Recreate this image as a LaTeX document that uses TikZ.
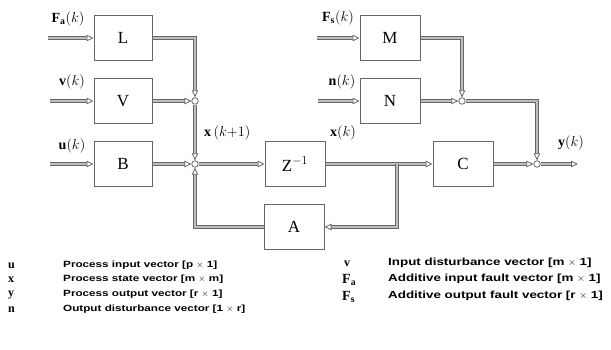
\documentclass[tikz,border=0pt]{standalone}
\usepackage{fontspec}
\setmainfont{Liberation Serif}
\setsansfont{Liberation Sans}
\newfontfamily\legfont[FakeStretch=1.3]{Liberation Sans Bold}
\definecolor{wire}{HTML}{666666}
\definecolor{wirecore}{HTML}{BEBEBE}
\usetikzlibrary{calc, positioning, arrows.meta}

\begin{document}
\begin{tikzpicture}[x=1pt, y=-1pt,
  blk/.style={draw=wire, line width=1pt, fill=white, minimum width=58pt,
              minimum height=45pt, font=\fontsize{17}{20}\selectfont},
  sumpt/.style={circle, draw=wire, line width=0.8pt, fill=white,
                minimum size=6.5pt, inner sep=0pt},
  sig/.style={draw=wire, line width=1pt, double=wirecore, double distance=1.5pt,
              -{Triangle[fill=white, length=7pt, width=6.5pt, line width=0.8pt]}},
  wireln/.style={draw=wire, line width=1pt, double=wirecore, double distance=1.5pt},
  lbl/.style={inner sep=0pt, font=\fontsize{14}{16}\selectfont},
  sym/.style={inner sep=0pt, anchor=west, font=\fontsize{12}{14}\selectfont\bfseries},
  symbig/.style={inner sep=0pt, anchor=west, font=\fontsize{14}{16}\selectfont},
  legtxt/.style={inner sep=0pt, anchor=west, font=\legfont\fontsize{9}{11}\selectfont},
  legtxtr/.style={legtxt, font=\legfont\fontsize{10.3}{12}\selectfont},
]
\useasboundingbox (0,0) rectangle (611,350);

% blocks
\node[blk] (L) at (123,38) {L};
\node[blk] (V) at (123,101) {V};
\node[blk] (B) at (123,164) {B};
\node[blk, minimum width=60pt] (Z) at (295,164) {Z$^{-1}$};
\node[blk, minimum width=60pt] (A) at (294,227) {A};
\node[blk, minimum width=60pt] (C) at (463,164) {C};
\node[blk, minimum width=60pt] (M) at (390,38) {M};
\node[blk, minimum width=60pt] (N) at (390,101) {N};

% junctions
\node[sumpt] (sj1) at (195,101) {};
\node[sumpt] (s1) at (195,164) {};
\node[sumpt] (sj3) at (462,101) {};
\node[sumpt] (s2) at (537,164) {};

% free ends
\coordinate (fain) at (48,38);
\coordinate (vin) at (50,101);
\coordinate (uin) at (50,164);
\coordinate (fsin) at (317,38);
\coordinate (nin) at (318,101);
\coordinate (br) at (397,164);
\coordinate (yout) at (578,164);

% signals
\draw[sig] (fain) -- (L);
\draw[sig] (vin) -- (V);
\draw[sig] (uin) -- (B);
\draw[sig] (fsin) -- (M);
\draw[sig] (nin) -- (N);
\draw[sig] (L.east) -| (sj1);
\draw[sig] (V) -- (sj1);
\draw[sig] (sj1) -- (s1);
\draw[sig] (B) -- (s1);
\draw[sig] (s1) -- (Z);
\draw[wireln] (Z) -- (br);
\draw[sig] (br) -- (C);
\draw[sig] (br) |- (A);
\draw[sig] (A) -| (s1);
\draw[sig] (M.east) -| (sj3);
\draw[sig] (N) -- (sj3);
\draw[sig] (sj3) -| (s2);
\draw[sig] (C) -- (s2);
\draw[sig] (s2) -- (yout);

% signal labels
\node[lbl] (lfa) at (68,19) {$\mathbf{F}_{\mathbf{a}}(k)$};
\node[lbl] (lv) at (72,82) {$\mathbf{v}(k)$};
\node[lbl] (lu) at (72,146) {$\mathbf{u}(k)$};
\node[lbl] (lfs) at (338,18) {$\mathbf{F}_{\mathbf{s}}(k)$};
\node[lbl] (ln) at (342,82) {$\mathbf{n}(k)$};
\node[lbl, anchor=west] (lxk1) at (204,133) {$\mathbf{x}\,(k{+}1)$};
\node[lbl] (lxk) at (343,133) {$\mathbf{x}(k)$};
\node[lbl] (ly) at (571,143) {$\mathbf{y}(k)$};

% legend
\node[sym] (su) at (8,266) {u};
\node[legtxt] (tu) at (63,265) {Process input vector [p $\times$ 1]};
\node[sym] (sx) at (8,280) {x};
\node[legtxt] (tx) at (63,279) {Process state vector [m $\times$ m]};
\node[sym] (sy) at (8,295) {y};
\node[legtxt] (ty) at (63,294) {Process output vector [r $\times$ 1]};
\node[sym] (sn) at (8,310) {n};
\node[legtxt] (tn) at (63,309) {Output disturbance vector [1 $\times$ r]};
\node[sym] (sv) at (344,264) {v};
\node[legtxtr] (tv) at (388,263) {Input disturbance vector [m $\times$ 1]};
\node[symbig] (sfa) at (342,280) {$\mathbf{F}_{\mathbf{a}}$};
\node[legtxtr] (tfa) at (388,279) {Additive input fault vector [m $\times$ 1]};
\node[symbig] (sfs) at (342,297) {$\mathbf{F}_{\mathbf{s}}$};
\node[legtxtr] (tfs) at (388,296) {Additive output fault vector [r $\times$ 1]};
\end{tikzpicture}
\end{document}
